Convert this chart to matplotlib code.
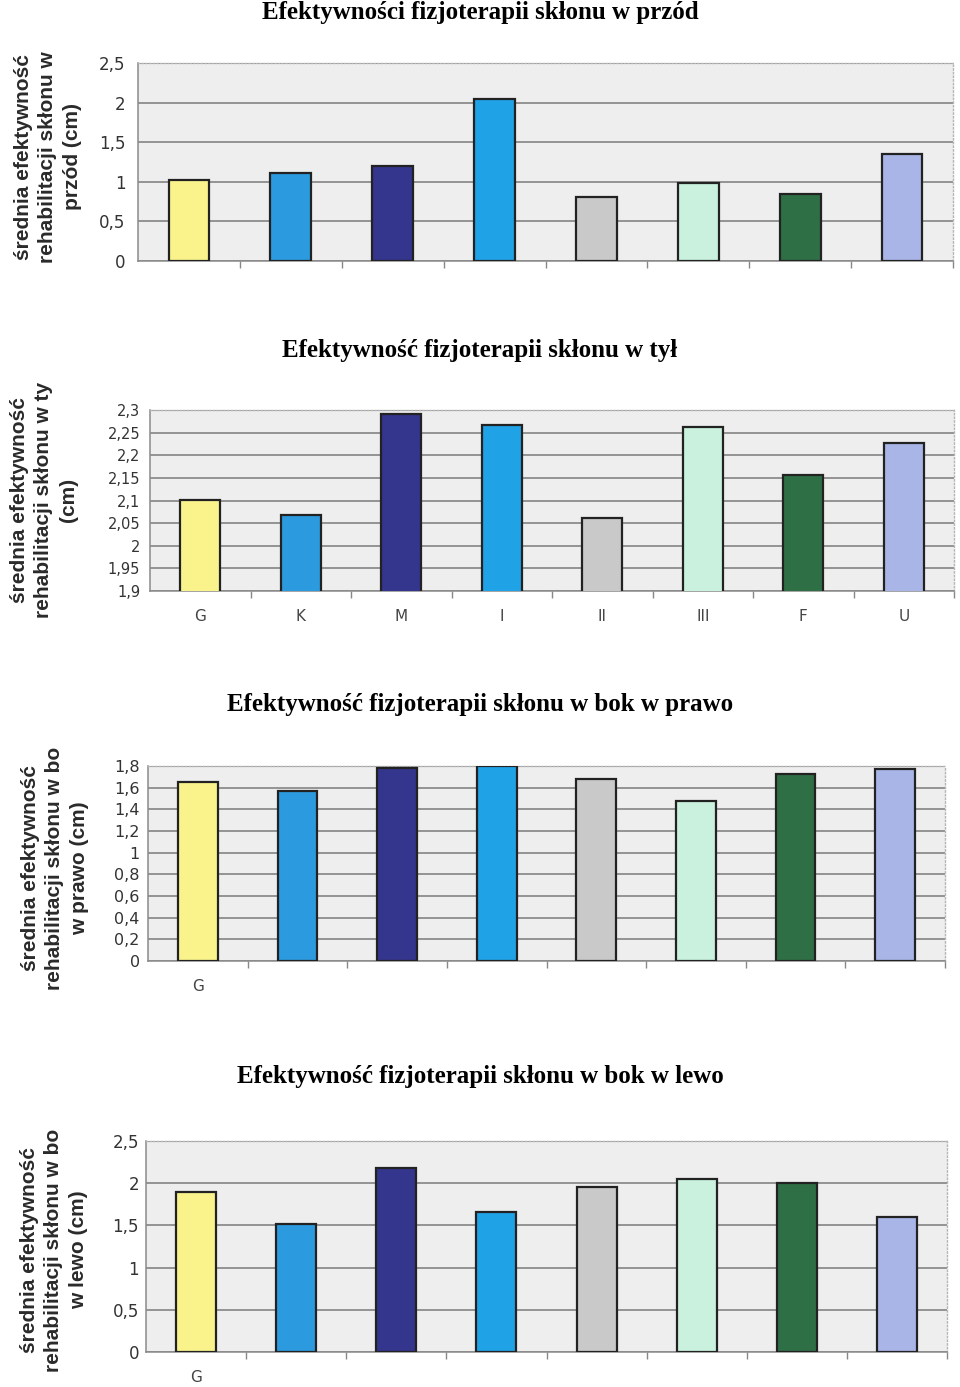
import matplotlib
matplotlib.use("Agg")
import matplotlib.pyplot as plt
from matplotlib.ticker import FixedLocator, FuncFormatter

# data
groups = ["G", "K", "M", "I", "II", "III", "F", "U"]
colors = ["#faf38c", "#2c9ade", "#34358c", "#20a2e6", "#c9c9c9", "#c9f1dd", "#2f6f45", "#a9b5e6"]

przod = [1.02, 1.11, 1.20, 2.04, 0.81, 0.99, 0.85, 1.35]
tyl = [2.101, 2.068, 2.291, 2.267, 2.062, 2.262, 2.157, 2.226]
bok_prawo = [1.65, 1.57, 1.78, 1.80, 1.68, 1.48, 1.73, 1.77]
bok_lewo = [1.90, 1.52, 2.18, 1.66, 1.96, 2.05, 2.00, 1.60]

titles = ["Efektywności fizjoterapii skłonu w przód",
          "Efektywność fizjoterapii skłonu w tył",
          "Efektywność fizjoterapii skłonu w bok w prawo",
          "Efektywność fizjoterapii skłonu w bok w lewo"]
ylabels = ["średnia efektywność\nrehabilitacji skłonu w\nprzód (cm)",
           "średnia efektywność\nrehabilitacji skłonu w ty\n(cm)",
           "średnia efektywność\nrehabilitacji skłonu w bo\nw prawo (cm)",
           "średnia efektywność\nrehabilitacji skłonu w bo\nw lewo (cm)"]
yticks = [[0, 0.5, 1, 1.5, 2, 2.5],
          [1.9, 1.95, 2, 2.05, 2.1, 2.15, 2.2, 2.25, 2.3],
          [0, 0.2, 0.4, 0.6, 0.8, 1, 1.2, 1.4, 1.6, 1.8],
          [0, 0.5, 1, 1.5, 2, 2.5]]
xlabels = [[], groups, ["G"], ["G"]]
series = [przod, tyl, bok_prawo, bok_lewo]

W, H = 960, 1387
fig = plt.figure(figsize=(W / 100, H / 100), dpi=100)

# axes boxes in pixels: left, top, right, bottom
boxes = [(138, 63, 953, 261), (150, 410, 954, 591), (148, 766, 945, 961), (146, 1141, 947, 1352)]
title_y = [13, 351, 704, 1076]
ylab_pos = [(48, 157), (44, 500), (55, 868), (54, 1250)]
tick_fs = [12, 10.5, 11.5, 12]
tick_pad = [9, 7, 6, 5]


def fmt(v, pos):
    s = ("%g" % v).replace(".", ",")
    return s


for k in range(4):
    l, t, r, b = boxes[k]
    ax = fig.add_axes([l / W, 1 - b / H, (r - l) / W, (b - t) / H])
    ax.set_facecolor("#eeeeee")
    x = list(range(len(groups)))
    ax.bar(x, series[k], width=0.4, color=colors, edgecolor="#222222", linewidth=1.6, zorder=3)
    ax.set_xlim(-0.5, 7.5)
    ax.set_ylim(yticks[k][0], yticks[k][-1])
    ax.yaxis.set_major_locator(FixedLocator(yticks[k]))
    ax.yaxis.set_major_formatter(FuncFormatter(fmt))
    ax.grid(axis="y", color="#7a7a7a", linewidth=1.1, zorder=1)
    ax.tick_params(axis="y", length=0, pad=tick_pad[k], labelsize=tick_fs[k], labelcolor="#333333")

    # category labels
    ax.set_xticks(x[:len(xlabels[k])])
    ax.set_xticklabels(xlabels[k], fontsize=11, color="#444444")
    ax.tick_params(axis="x", which="major", length=0, pad=13)
    ax.set_xticks([i + 0.5 for i in range(8)], minor=True)
    ax.tick_params(axis="x", which="minor", length=5, direction="out", color="#888888", width=1)

    for s in ["left", "bottom"]:
        ax.spines[s].set_color("#8a8a8a")
        ax.spines[s].set_linewidth(1.1)
    for s in ["top", "right"]:
        ax.spines[s].set_color("#b5b5b5")
        ax.spines[s].set_linewidth(1)
        ax.spines[s].set_linestyle(":")

    fig.text(0.5, 1 - title_y[k] / H, titles[k], ha="center", va="center",
             fontsize=18, fontweight="bold", family="Liberation Serif")
    fig.text(ylab_pos[k][0] / W, 1 - ylab_pos[k][1] / H, ylabels[k], rotation=90,
             ha="center", va="center", multialignment="center", fontsize=15,
             fontweight="bold", family="Liberation Sans", color="#2a2a2a", linespacing=1.35)

fig.savefig("out.png", dpi=100)
